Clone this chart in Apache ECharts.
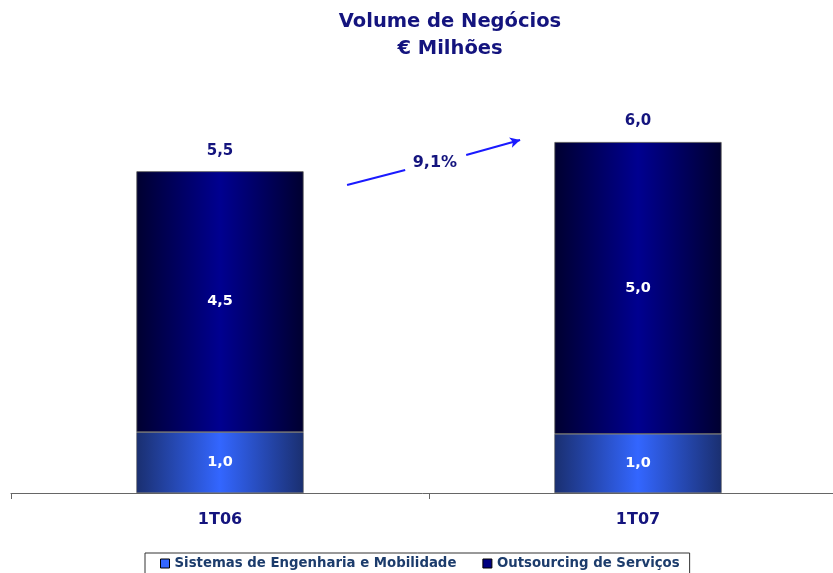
<!DOCTYPE html>
<html>
<head>
<meta charset="utf-8">
<script src="https://cdn.jsdelivr.net/npm/echarts@6/dist/echarts.min.js"></script>
<style>
  html, body { margin: 0; padding: 0; background: #fff; }
  #main { width: 833px; height: 573px; }
</style>
</head>
<body>
<div id="main"></div>
<script>
var myChart = echarts.init(document.getElementById('main'));

var categorias = ['1T06', '1T07'];
var sistemas = [1.04, 1.01];
var outsourcing = [4.46, 4.99];
var totais = [5.5, 6.0];
var crescimento = '9,1%';
// arrow pieces in chart units (category position 0..2, value), gap left for the text
var setaInicio = [[0.804, 5.265], [0.943, 5.521]];
var setaFim = [[1.089, 5.778], [1.218, 6.034]];
var setaTexto = [1.014, 5.641];

function fmt(v) { return v.toFixed(1).replace('.', ','); }

function grad(edge, mid) {
    return new echarts.graphic.LinearGradient(0, 0, 1, 0, [
        { offset: 0, color: edge },
        { offset: 0.5, color: mid },
        { offset: 1, color: edge }
    ]);
}

var font = 'DejaVu Sans, Verdana, sans-serif';
var navy = '#14147e';

var option = {
    animation: false,
    title: {
        text: 'Volume de Negócios\n€ Milhões',
        left: 445,
        textAlign: 'center',
        top: 3,
        textStyle: { fontFamily: font, fontSize: 19.5, fontWeight: 'bold', color: navy, lineHeight: 27 }
    },
    legend: {
        data: [
            { name: 'Sistemas de Engenharia e Mobilidade', itemStyle: { color: '#3366ff', borderColor: '#000', borderWidth: 1 } },
            { name: 'Outsourcing de Serviços', itemStyle: { color: '#000080', borderColor: '#000', borderWidth: 1 } }
        ],
        top: 553,
        left: 145,
        itemWidth: 9,
        itemHeight: 9,
        itemGap: 26,
        borderColor: '#333',
        borderWidth: 1,
        padding: [4, 10, 12, 15],
        textStyle: { fontFamily: font, fontSize: 13.3, fontWeight: 'bold', color: '#1c3c6c' },
        icon: 'rect'
    },
    grid: { left: 11, right: -14, top: 25, bottom: 80, outerBoundsMode: 'none' },
    xAxis: [{
        type: 'category',
        data: categorias,
        axisLine: { lineStyle: { color: '#666', width: 1 } },
        axisTick: { show: true, length: 6, lineStyle: { color: '#666' } },
        axisLabel: { fontFamily: font, fontSize: 16, fontWeight: 'bold', color: navy, margin: 19 }
    }, {
        type: 'value',
        min: 0,
        max: 2,
        show: false
    }],
    yAxis: { type: 'value', min: 0, max: 8, show: false },
    series: [{
        name: 'Sistemas de Engenharia e Mobilidade',
        type: 'bar',
        stack: 'vn',
        barWidth: '40%',
        data: sistemas,
        itemStyle: { color: grad('#1a2f70', '#3366ff'), borderColor: '#555', borderWidth: 0.6 },
        label: {
            show: true, position: 'inside',
            formatter: function (p) { return fmt(p.value); },
            fontFamily: font, fontSize: 14.5, fontWeight: 'bold', color: '#fff'
        }
    }, {
        name: 'Outsourcing de Serviços',
        type: 'bar',
        stack: 'vn',
        data: outsourcing,
        itemStyle: { color: grad('#000030', '#000090'), borderColor: '#555', borderWidth: 0.8 },
        label: {
            show: true, position: 'inside',
            formatter: function (p) { return fmt(p.value); },
            fontFamily: font, fontSize: 14.5, fontWeight: 'bold', color: '#fff'
        }
    }, {
        name: 'total',
        type: 'bar',
        stack: 'vn',
        data: totais.map(function () { return 0; }),
        itemStyle: { color: 'transparent' },
        label: {
            show: true, position: 'top', distance: 13,
            formatter: function (p) { return fmt(totais[p.dataIndex]); },
            fontFamily: font, fontSize: 15, fontWeight: 'bold', color: navy
        }
    }, {
        name: 'seta',
        type: 'line',
        xAxisIndex: 1,
        data: [],
        markLine: {
            silent: true,
            symbolSize: [8, 10],
            lineStyle: { color: '#1a1aff', width: 2, type: 'solid' },
            label: { show: false },
            data: [
                [{ coord: setaInicio[0], symbol: 'none' }, { coord: setaInicio[1], symbol: 'none' }],
                [{ coord: setaFim[0], symbol: 'none' }, { coord: setaFim[1], symbol: 'arrow' }]
            ]
        },
        markPoint: {
            silent: true,
            symbol: 'circle',
            symbolSize: 0,
            label: {
                show: true, position: 'inside',
                formatter: crescimento,
                fontFamily: font, fontSize: 16, fontWeight: 'bold', color: navy
            },
            data: [{ coord: setaTexto }]
        }
    }]
};

myChart.setOption(option);
</script>
</body>
</html>
